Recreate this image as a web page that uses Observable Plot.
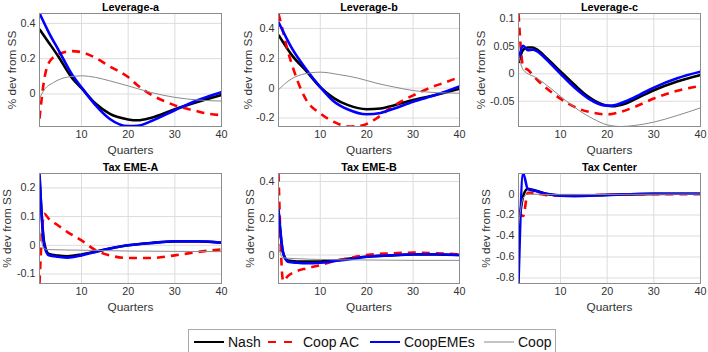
<!DOCTYPE html>
<html><head><meta charset="utf-8">
<script src="https://cdn.jsdelivr.net/npm/d3@7"></script>
<script src="https://cdn.jsdelivr.net/npm/@observablehq/plot@0.6"></script>
<style>
body{margin:0;background:#fff;width:708px;height:352px;position:relative;overflow:hidden;font-family:"Liberation Sans",Arial,Helvetica,sans-serif;}
.panel{position:absolute;}
#legend{position:absolute;left:188px;top:329px;width:368px;height:24px;box-sizing:border-box;border:1px solid #aaa;background:#fff;}
</style></head><body>
<div id="root"></div>
<div id="legend"></div>
<script>
// ---- data ----
const quarterTicks = [10, 20, 30, 40];
const seriesNames = ["Nash", "Coop AC", "CoopEMEs", "Coop"];
const panelTitles = ["Leverage-a", "Leverage-b", "Leverage-c", "Tax EME-A", "Tax EME-B", "Tax Center"];

const levA_nash = [[1,0.367],[3,0.291],[5,0.214],[8,0.09],[10,0.033],[13,-0.054],[16,-0.111],[20,-0.144],[22,-0.149],[25,-0.134],[30,-0.086],[35,-0.044],[40,-0.006]];
const levA_coopAC = [[1,-0.14],[2,0.08],[3,0.176],[5,0.224],[8,0.243],[10,0.237],[13,0.205],[16,0.157],[20,0.096],[22,0.05],[25,-0.005],[28,-0.043],[31,-0.073],[34,-0.092],[37,-0.111],[40,-0.12]];
const levA_coopEMEs = [[1,0.457],[2,0.402],[3,0.348],[5,0.253],[8,0.109],[10,0.038],[13,-0.063],[16,-0.14],[20,-0.182],[22,-0.18],[25,-0.153],[30,-0.092],[35,-0.034],[40,0.01]];
const levA_coop = [[1,-0.025],[2,0.023],[4,0.065],[7,0.096],[10,0.103],[13,0.094],[16,0.075],[20,0.046],[25,0.008],[30,-0.019],[35,-0.034],[40,-0.04]];

const levB_nash = [[1,0.357],[4,0.216],[7,0.114],[10,0.007],[13,-0.068],[16,-0.114],[20,-0.141],[23,-0.136],[26,-0.114],[30,-0.08],[35,-0.045],[40,-0.005]];
const levB_coopAC = [[1,0.5],[2,0.375],[3,0.25],[4,0.148],[5,0.057],[7,-0.08],[10,-0.17],[13,-0.227],[16,-0.257],[19,-0.25],[22,-0.205],[25,-0.136],[28,-0.08],[31,-0.034],[34,0.007],[37,0.039],[40,0.075]];
const levB_coopEMEs = [[1,0.443],[4,0.261],[7,0.125],[10,0.007],[13,-0.091],[16,-0.143],[20,-0.175],[23,-0.166],[26,-0.136],[30,-0.091],[35,-0.045],[40,0.011]];
const levB_coop = [[1,-0.011],[3,0.045],[6,0.091],[10,0.107],[14,0.091],[18,0.068],[22,0.034],[26,0.007],[30,-0.016],[35,-0.03],[40,-0.034]];

const levC_nash = [[1,0.0198],[2,0.044],[3,0.048],[4,0.048],[5,0.044],[7,0.029],[10,0.0043],[13,-0.02],[16,-0.042],[19,-0.056],[21,-0.059],[24,-0.054],[27,-0.042],[30,-0.03],[35,-0.014],[40,-0.002]];
const levC_coopAC = [[1,0.11],[2,0.0136],[3,0.0074],[5,-0.011],[8,-0.033],[11,-0.051],[14,-0.064],[17,-0.071],[20,-0.074],[23,-0.069],[26,-0.06],[30,-0.045],[35,-0.031],[40,-0.022]];
const levC_coopEMEs = [[1,0.024],[2,0.051],[3,0.043],[4,0.044],[5,0.041],[7,0.026],[10,0],[13,-0.025],[16,-0.045],[19,-0.057],[21,-0.058],[24,-0.05],[27,-0.038],[30,-0.025],[35,-0.008],[40,0.004]];
const levC_coop = [[1,0.035],[2,0.0074],[5,-0.008],[8,-0.027],[11,-0.048],[14,-0.067],[17,-0.082],[20,-0.093],[23,-0.096],[26,-0.094],[30,-0.088],[35,-0.076],[40,-0.062]];

const taxA_nash = [[1,0.24],[2,0.01],[3,-0.03],[5,-0.036],[7,-0.038],[10,-0.032],[13,-0.022],[16,-0.011],[20,0],[25,0.008],[30,0.013],[35,0.013],[40,0.009]];
const taxA_coopAC = [[1,-0.133],[2,0.11],[3,0.092],[5,0.069],[7,0.046],[10,0.017],[13,-0.017],[16,-0.035],[20,-0.044],[25,-0.044],[30,-0.035],[35,-0.023],[40,-0.014]];
const taxA_coopEMEs = [[1,0.25],[2,0],[3,-0.035],[5,-0.04],[7,-0.043],[10,-0.035],[13,-0.023],[16,-0.012],[20,0],[25,0.008],[30,0.014],[35,0.014],[40,0.009]];
const taxA_coop = [[1,0.052],[2,-0.012],[3,-0.015],[10,-0.017],[20,-0.02],[30,-0.021],[40,-0.022]];

const taxB_nash = [[1,0.24],[2,0.01],[3,-0.03],[5,-0.035],[7,-0.036],[10,-0.035],[13,-0.03],[16,-0.02],[20,-0.009],[25,-0.002],[30,0.003],[35,0.003],[40,0]];
const taxB_coopAC = [[1,0.444],[2,-0.142],[3,-0.115],[5,-0.087],[7,-0.073],[10,-0.055],[13,-0.033],[16,-0.018],[20,0],[25,0.009],[30,0.013],[35,0.009],[40,0.004]];
const taxB_coopEMEs = [[1,0.25],[2,0.013],[3,-0.036],[5,-0.042],[7,-0.045],[10,-0.042],[13,-0.033],[16,-0.024],[20,-0.009],[25,-0.002],[30,0.004],[35,0.004],[40,0]];
const taxB_coop = [[1,0.04],[2,-0.015],[5,-0.02],[10,-0.024],[20,-0.027],[30,-0.029],[40,-0.029]];

const taxC_nash = [[1,-0.32],[2,-0.02],[3,0.05],[5,0.028],[7,0.002],[10,-0.014],[13,-0.017],[20,-0.008],[30,0.002],[40,0.003]];
const taxC_coopAC = [[1,-0.17],[2,-0.21],[3,0.012],[5,0.005],[7,-0.01],[10,-0.015],[13,-0.015],[20,-0.006],[30,-0.002],[40,-0.002]];
const taxC_coopEMEs = [[1,-0.853],[2,0.196],[3,0.047],[5,0.025],[7,0],[10,-0.016],[13,-0.019],[20,-0.009],[30,0.003],[40,0.003]];
const taxC_coop = [[1,-0.3],[2,-0.04],[3,0],[5,-0.003],[10,-0.006],[20,-0.004],[40,0]];

const yDomains = [[-0.184,0.456],[-0.257,0.5],[-0.096,0.11],[-0.133,0.25],[-0.155,0.444],[-0.853,0.196]];
const yTickSets = [[0,0.2,0.4],[-0.2,0,0.2,0.4],[-0.05,0,0.05,0.1],[-0.1,0,0.1,0.2],[0,0.2,0.4],[-0.8,-0.6,-0.4,-0.2,0]];

const panelData = [
  [levA_nash, levA_coopAC, levA_coopEMEs, levA_coop],
  [levB_nash, levB_coopAC, levB_coopEMEs, levB_coop],
  [levC_nash, levC_coopAC, levC_coopEMEs, levC_coop],
  [taxA_nash, taxA_coopAC, taxA_coopEMEs, taxA_coop],
  [taxB_nash, taxB_coopAC, taxB_coopEMEs, taxB_coop],
  [taxC_nash, taxC_coopAC, taxC_coopEMEs, taxC_coop]
];

// ---- styles / layout ----
const seriesStyle = [
  {stroke:"#000000", strokeWidth:2.6},
  {stroke:"#ff0000", strokeWidth:2.6, strokeDasharray:"8,6"},
  {stroke:"#0000ff", strokeWidth:2.6},
  {stroke:"#8a8a8a", strokeWidth:1}
];
const layout = [
  {left:0,   top:0,   ml:39, mr:15, mt:13, mb:39, yl:27},
  {left:236, top:0,   ml:42, mr:13, mt:13, mb:39, yl:30},
  {left:472, top:0,   ml:46, mr:8,  mt:13, mb:39, yl:37},
  {left:0,   top:160, ml:39, mr:15, mt:13, mb:42, yl:32},
  {left:236, top:160, ml:42, mr:13, mt:13, mb:42, yl:28},
  {left:472, top:160, ml:46, mr:8,  mt:13, mb:42, yl:32}
];

const root = document.getElementById("root");
const fmt = d => String(d);

panelData.forEach((series, i) => {
  const L = layout[i];
  const lines = series.map((data, k) => Plot.line(data, {
    x: d => d[0], y: d => d[1], curve: "monotone-x", clip: true,
    strokeLinejoin: "round", strokeLinecap: "butt", ...seriesStyle[k]
  }));
  const chart = Plot.plot({
    width: 236, height: 165,
    marginLeft: L.ml, marginRight: L.mr, marginTop: L.mt, marginBottom: L.mb,
    x: {domain: [1, 40], label: null},
    y: {domain: yDomains[i], label: null},
    style: {fontFamily: '"Liberation Sans", Arial, Helvetica, sans-serif', background: "transparent", overflow: "visible"},
    marks: [
      Plot.gridX(quarterTicks, {stroke: "#dcdcdc", strokeOpacity: 1}),
      Plot.gridY(yTickSets[i], {stroke: "#dcdcdc", strokeOpacity: 1}),
      Plot.axisX(quarterTicks, {tickSize: 0, tickPadding: 4, tickFormat: fmt, fontSize: 10.8, fill: "#333", label: null}),
      Plot.axisY(yTickSets[i], {tickSize: 0, tickPadding: 4, tickFormat: fmt, fontSize: 10.8, fill: "#333", label: null}),
      ...lines,
      Plot.frame({stroke: "#8c8c8c"}),
      Plot.text([panelTitles[i]], {text: d => d, frameAnchor: "top", lineAnchor: "middle", textAnchor: "middle", dy: -6, fontWeight: "bold", fontSize: 10.8, fill: "#000"}),
      Plot.text(["Quarters"], {text: d => d, frameAnchor: "bottom", lineAnchor: "middle", textAnchor: "middle", dy: 24, fontSize: 11.8, fill: "#333"}),
      Plot.text(["% dev from SS"], {text: d => d, frameAnchor: "left", lineAnchor: "middle", textAnchor: "middle", rotate: -90, dx: -L.yl, fontSize: 11.8, fill: "#333"})
    ]
  });
  chart.classList.add("panel");
  chart.style.left = L.left + "px";
  chart.style.top = L.top + "px";
  root.appendChild(chart);
});

// ---- legend ----
const legendItems = [
  {x1:5, x2:35, tx:39},
  {x1:79, x2:103, tx:114},
  {x1:181, x2:211, tx:215},
  {x1:295, x2:325, tx:329}
];
const ns = "http://www.w3.org/2000/svg";
const lsvg = document.createElementNS(ns, "svg");
lsvg.setAttribute("width", 366); lsvg.setAttribute("height", 22);
legendItems.forEach((it, k) => {
  const st = seriesStyle[k];
  const ln = document.createElementNS(ns, "line");
  ln.setAttribute("x1", it.x1); ln.setAttribute("x2", it.x2);
  ln.setAttribute("y1", 12); ln.setAttribute("y2", 12);
  ln.setAttribute("stroke", st.stroke);
  ln.setAttribute("stroke-width", k === 3 ? 1 : 2);
  if (st.strokeDasharray) ln.setAttribute("stroke-dasharray", "8,8");
  lsvg.appendChild(ln);
  const t = document.createElementNS(ns, "text");
  t.setAttribute("x", it.tx); t.setAttribute("y", 17);
  t.setAttribute("font-size", "14");
  t.setAttribute("font-family", '"Liberation Sans", Arial, sans-serif');
  t.setAttribute("fill", "#111");
  t.textContent = seriesNames[k];
  lsvg.appendChild(t);
});
document.getElementById("legend").appendChild(lsvg);
</script>
</body></html>
